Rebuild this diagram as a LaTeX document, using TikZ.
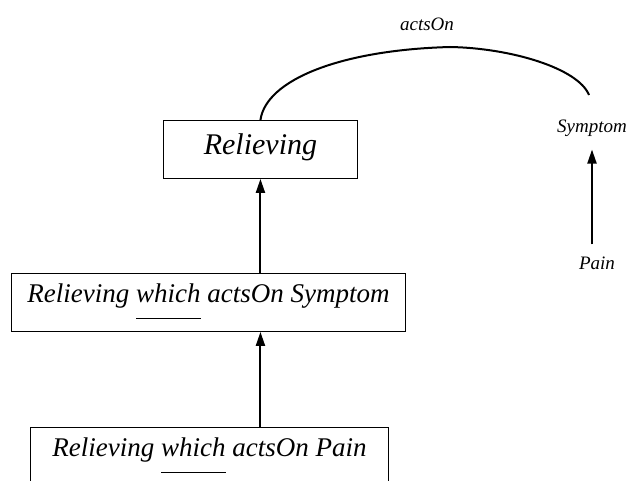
\documentclass[tikz,border=0pt]{standalone}
\usepackage{fontspec}
\setmainfont{Liberation Serif}
\usetikzlibrary{arrows.meta, positioning}

\newcommand{\undl}[1]{\setbox0\hbox{#1}\rlap{\rule[-17pt]{\wd0}{1.4pt}}\box0\relax}

\begin{document}
\begin{tikzpicture}[
    x=1pt, y=-1pt,
    every node/.style={font=\itshape},
    concept/.style={draw, line width=0.9pt, anchor=north west, minimum width=#1, minimum height=58pt, inner xsep=0pt, inner ysep=0pt, text height=29pt, text depth=29pt, font=\fontsize{27}{30}\selectfont\itshape},
    lbl/.style={font=\fontsize{19}{21}\selectfont\itshape, inner sep=1pt},
    arr/.style={-{Triangle[length=14pt, width=9pt]}, line width=2pt},
]
    \useasboundingbox (0,0) rectangle (637,481);
    \clip (0,0) rectangle (637,481);

    % Concepts
    \node[concept=194pt, text height=34pt, text depth=24pt, font=\fontsize{30}{32}\selectfont\itshape] (rel) at (163,120) {Relieving};
    \node[concept=394pt] (relsym) at (11,273) {Relieving \undl{which} actsOn Symptom};
    \node[concept=358pt] (relpain) at (30,427) {Relieving \undl{which} actsOn Pain};

    % Relation graph
    \node[lbl] (actson) at (427,24) {actsOn};
    \node[lbl] (symptom) at (592,128) {Symptom};
    \node[lbl] (pain) at (597,263) {Pain};
    \coordinate (actsend) at (589,95);

    % Arrows
    \draw[arr] (rel.south |- relsym.north) -- (rel.south);
    \draw[arr] (rel.south |- relpain.north) -- (rel.south |- relsym.south);
    \draw[arr, shorten <=11pt, shorten >=12pt] (pain.north -| symptom.south) -- (symptom.south);
    \draw[line width=2pt] (rel.north) .. controls (266,80) and (340,50) .. (450,47)
        .. controls (510,48) and (578,68) .. (actsend);
\end{tikzpicture}
\end{document}
